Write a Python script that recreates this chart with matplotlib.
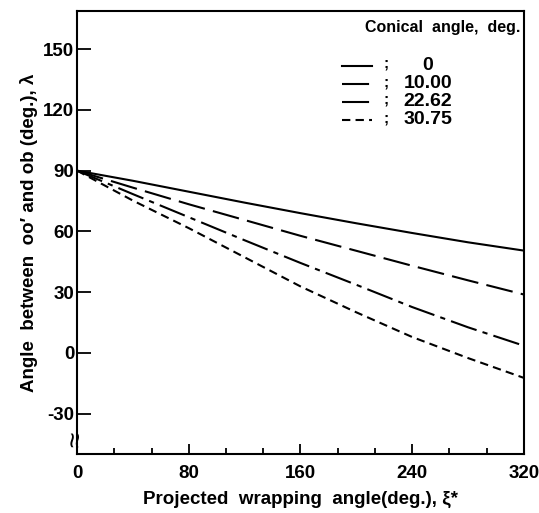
import numpy as np
import matplotlib.pyplot as plt
from matplotlib.ticker import MultipleLocator

plt.rcParams['font.family'] = ['Liberation Sans', 'DejaVu Sans']
plt.rcParams['font.weight'] = 'bold'
plt.rcParams['axes.labelweight'] = 'bold'
plt.rcParams['axes.unicode_minus'] = False

# projected wrapping angle, deg.
xi = [0, 40, 80, 120, 160, 200, 240, 280, 320]

# angle lambda for each conical angle
lam_0 = [90, 85, 79.6, 74.2, 69, 64, 59.2, 54.6, 50.5]
lam_10 = [90, 81.6, 73.4, 65.6, 57.8, 50.4, 43, 35.8, 28.8]
lam_2262 = [90, 78.4, 67, 55.6, 44.4, 33.6, 22.6, 12.6, 3.5]
lam_3075 = [90, 75.2, 61.6, 47.2, 32.8, 20, 7.8, -2.6, -12.4]

cone_labels = ['0', '10.00', '22.62', '30.75']
styles = ['-', (0, (13, 4)), (0, (13, 3, 2.5, 3)), (0, (4, 2.5))]

fig = plt.figure(figsize=(5.39, 5.13), dpi=100)
ax = fig.add_axes([0.143, 0.115, 0.829, 0.864])

for lam, ls in zip([lam_0, lam_10, lam_2262, lam_3075], styles):
    ax.plot(xi, lam, color='black', lw=1.5, ls=ls)

ax.set_xlim(0, 320)
ax.set_ylim(-50, 169)
ax.set_xticks([0, 80, 160, 240, 320])
ax.xaxis.set_minor_locator(MultipleLocator(80 / 3))
ax.set_yticks([-30, 0, 30, 60, 90, 120, 150])
ax.tick_params(axis='x', which='major', direction='in', length=7, width=1.3,
               labelsize=13.5, pad=8)
ax.tick_params(axis='x', which='minor', direction='in', length=4, width=1.3)
ax.tick_params(axis='y', direction='in', length=10, width=1.3, labelsize=13.5, pad=2)
for s in ax.spines.values():
    s.set_linewidth(1.5)

ax.set_xlabel('Projected  wrapping  angle(deg.), \u03be*', fontsize=13.5, labelpad=6)
ax.set_ylabel('Angle  between  oo\u2032 and ob (deg.), \u03bb', fontsize=13.5, labelpad=4)

# axis break mark
ax.text(0, -43, '\u2248', transform=ax.transData, rotation=90, fontsize=20,
        ha='center', va='center', fontweight='normal', clip_on=False)

# legend
ax.text(0.993, 0.962, 'Conical  angle,  deg.', transform=ax.transAxes,
        ha='right', va='center', fontsize=11.5)
rows = [0.876, 0.835, 0.795, 0.754]
for y, ls, lab in zip(rows, styles, cone_labels):
    ax.plot([0.593, 0.660], [y, y], transform=ax.transAxes, color='black',
            lw=1.5, ls=ls)
    ax.text(0.691, y + 0.004, ';', transform=ax.transAxes, ha='center',
            va='center', fontsize=11)
    ax.text(0.785, y, lab, transform=ax.transAxes, ha='center', va='center',
            fontsize=14)

fig.savefig('out.png', dpi=100)
